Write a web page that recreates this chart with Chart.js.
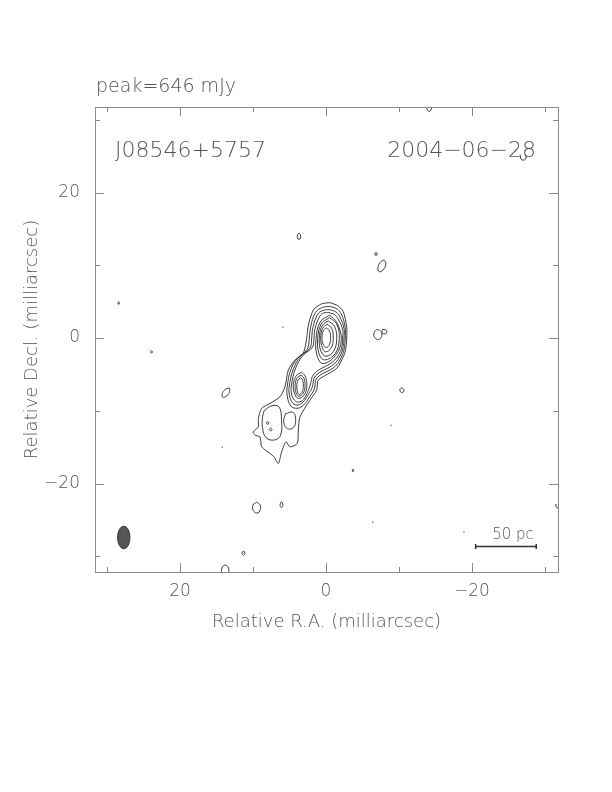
<!DOCTYPE html>
<html>
<head>
<meta charset="utf-8">
<script src="https://cdn.jsdelivr.net/npm/chart.js@4.4.1/dist/chart.umd.min.js"></script>
<style>
  html, body { margin: 0; padding: 0; background: #fff; }
</style>
</head>
<body>
<canvas id="map" width="612" height="792"></canvas>
<script>
// axes (milliarcsec), RA runs right-to-left
const raRange = [-31.78, 31.64];
const decRange = [-32.15, 31.75];
const raLabels = [20, 0, -20];
const raMinor = [30, 10, -10, -30];
const decLabels = [20, 0, -20];
const decMinor = [30, 10, -10, -30];

// contours as [RA, Dec] points
const envelope = [[-0.55,4.86],[-1.6,4.45],[-2.37,3.62],[-2.84,1.5],[-2.84,0.0],[-2.75,-1.2],[-2.47,-2.34],[-1.47,-4.17],[1.05,-5.78],[1.27,-7.15],[2.19,-8.53],[3.56,-10.83],[3.79,-12.65],[3.93,-14.48],[4.93,-14.95],[5.48,-14.26],[6.07,-15.64],[6.53,-17.24],[7.12,-16.33],[7.67,-15.86],[8.81,-14.95],[9.04,-13.58],[9.73,-13.34],[9.96,-12.89],[9.27,-12.2],[9.27,-11.05],[8.81,-9.67],[7.67,-8.98],[6.30,-8.07],[5.62,-6.70],[5.16,-4.40],[4.25,-3.03],[3.11,-2.10],[2.64,0.0],[2.45,1.6],[1.74,3.85],[0.6,4.7]];
const ring2 = [[-0.5,4.35],[-1.5,4.0],[-2.1,3.3],[-2.64,1.4],[-2.64,0.0],[-2.55,-1.1],[-2.25,-2.3],[-1.28,-3.88],[1.24,-5.49],[1.6,-7.0],[2.25,-8.1],[3.05,-9.2],[3.9,-9.65],[4.8,-9.35],[5.3,-8.0],[5.3,-6.6],[4.8,-4.3],[3.85,-2.7],[2.6,-1.6],[2.28,0.0],[2.1,1.5],[1.45,3.5],[0.5,4.2]];
const ring2East = [[8.5,-10.0],[7.4,-9.3],[6.4,-9.5],[6.1,-11.2],[6.2,-13.3],[7.0,-14.0],[8.2,-13.7],[8.7,-12.3],[8.7,-11.0]];
const ring2Mid = [[5.55,-10.4],[4.5,-10.2],[4.15,-11.3],[4.45,-12.3],[5.3,-12.45],[5.8,-11.5]];
const ring3 = [[-0.45,3.9],[-1.35,3.6],[-1.85,3.0],[-2.47,1.3],[-2.47,0.0],[-2.37,-1.05],[-2.05,-2.2],[-1.09,-3.58],[1.43,-5.19],[1.9,-6.8],[2.5,-7.9],[3.15,-8.8],[3.85,-9.2],[4.55,-8.95],[5.0,-7.9],[5.03,-6.6],[4.45,-4.2],[3.5,-2.55],[2.2,-1.4],[1.96,0.0],[1.8,1.4],[1.15,3.25],[0.4,3.8]];
const ring3SpotA = [[7.99,-11.45],[7.8,-11.65],[7.99,-11.85],[8.18,-11.65]];
const ring3SpotB = [[7.58,-12.36],[7.39,-12.56],[7.58,-12.76],[7.77,-12.56]];
const ring4 = [[-0.4,3.5],[-1.2,3.2],[-1.6,2.7],[-2.28,1.2],[-2.28,0.0],[-2.2,-1.0],[-1.85,-2.1],[-0.9,-3.29],[1.62,-4.9],[2.2,-6.6],[2.6,-7.6],[3.1,-8.45],[3.75,-8.8],[4.3,-8.55],[4.7,-7.8],[4.75,-6.6],[4.15,-4.1],[3.15,-2.4],[1.85,-1.25],[1.64,0.0],[1.5,1.3],[0.85,3.0],[0.3,3.45]];
const knot5 = [[3.35,-4.7],[2.85,-5.23],[2.62,-6.5],[2.95,-7.77],[3.75,-8.3],[4.25,-7.77],[4.48,-6.5],[4.1,-5.23]];
const knot6 = [[3.4,-5.1],[3.02,-5.52],[2.87,-6.55],[3.12,-7.58],[3.7,-8.0],[4.08,-7.58],[4.23,-6.55],[3.98,-5.52]];
const knot7 = [[3.45,-5.45],[3.2,-5.79],[3.1,-6.6],[3.28,-7.41],[3.65,-7.75],[3.9,-7.41],[4.0,-6.6],[3.83,-5.79]];
const core5 = [[-0.5,3.15],[-1.5,2.1],[-2.1,-0.2],[-1.3,-2.4],[0.4,-3.5],[1.2,-2.5],[1.37,-0.2],[0.8,2.2]];
const core6 = [[-0.45,2.8],[-1.45,1.95],[-1.82,-0.1],[-1.25,-2.15],[0.2,-3.0],[0.95,-2.15],[1.14,-0.1],[0.65,1.95]];
const core7 = [[-0.3,2.35],[-1.15,1.64],[-1.47,-0.08],[-1.05,-1.8],[0.0,-2.5],[0.7,-1.8],[0.92,-0.08],[0.55,1.64]];
const core8 = [[-0.15,1.9],[-0.78,1.34],[-1.0,0.0],[-0.72,-1.34],[0.05,-1.9],[0.5,-1.34],[0.73,0.0],[0.45,1.34]];
const core9 = [[-0.05,1.4],[-0.47,1.0],[-0.64,0.05],[-0.47,-0.9],[-0.05,-1.3],[0.37,-0.9],[0.55,0.05],[0.37,1.0]];

// small lowest-level islands scattered over the field
const noiseIslands = [
  [[3.7,14.45],[3.5,14.2],[3.5,13.75],[3.7,13.55],[3.9,13.75],[3.9,14.2]],
  [[-6.85,11.75],[-7.05,11.55],[-6.85,11.35],[-6.65,11.55]],
  [[-7.95,10.75],[-8.2,10.3],[-7.95,9.5],[-7.35,9.1],[-7.1,9.5],[-7.4,10.35]],
  [[-7.0,1.2],[-7.55,0.9],[-7.6,0.2],[-7.2,-0.2],[-6.65,0.1],[-6.6,0.8]],
  [[-7.75,1.2],[-8.3,1.05],[-8.2,0.6],[-7.7,0.7]],
  [[-10.4,-6.8],[-10.7,-7.15],[-10.4,-7.5],[-10.1,-7.15]],
  [[13.25,-6.85],[13.85,-7.1],[14.2,-7.65],[14.15,-8.15],[13.55,-7.9],[13.2,-7.35]],
  [[23.9,-1.75],[23.75,-1.9],[23.9,-2.05],[24.05,-1.9]],
  [[28.4,5.0],[28.3,4.8],[28.4,4.6],[28.5,4.8]],
  [[9.5,-22.55],[9.05,-22.9],[9.0,-23.6],[9.45,-24.05],[9.95,-23.7],[10.0,-22.95]],
  [[6.1,-22.5],[5.9,-22.9],[6.1,-23.3],[6.3,-22.9]],
  [[11.3,-29.25],[11.1,-29.55],[11.3,-29.85],[11.5,-29.55]],
  [[-3.7,-18.0],[-3.8,-18.2],[-3.7,-18.4],[-3.6,-18.2]]
];
// bits cut by the frame
const edgeFragments = [
  [[14.3,-32.6],[14.25,-31.6],[13.8,-31.2],[13.35,-31.6],[13.3,-32.6]],
  [[-13.8,32.3],[-13.9,31.3],[-14.3,31.2],[-14.6,32.3]],
  [[-26.6,25.2],[-26.7,24.6],[-27.0,24.45],[-27.35,24.6],[-27.4,25.2]],
  [[-31.5,-22.8],[-31.6,-23.3],[-32.5,-23.3]]
];
const specks = [[-6.4,-25.3],[-18.9,-26.7],[14.2,-15.0],[-8.9,-12.0],[5.9,1.5]];

// beam: RA, Dec, half width (RA), half height (Dec)
const beam = [27.7, -27.4, 0.85, 1.55];
// 50 pc bar: RA start, RA end, Dec
const scaleBar = [-20.5, -28.8, -28.6];

const fontFam = '"DejaVu Sans", sans-serif';
const ink = '#555';
const lineInk = '#3c3c3c';

function toXY(list) {
  return list.map(p => ({ x: p[0], y: p[1] }));
}
function closed(list) {
  const out = toXY(list);
  out.push({ x: list[0][0], y: list[0][1] });
  return out;
}

const datasets = [];
function addContour(data, tension) {
  datasets.push({
    data,
    showLine: true,
    borderColor: lineInk,
    borderWidth: 1,
    pointRadius: 0,
    tension,
    fill: false
  });
}
addContour(closed(envelope), 0.25);
[ring2, ring2East, ring2Mid, ring3, ring3SpotA, ring3SpotB, ring4,
 knot5, knot6, knot7, core5, core6, core7, core8, core9].forEach(c => addContour(closed(c), 0.4));
noiseIslands.forEach(c => addContour(closed(c), 0.45));
edgeFragments.forEach(c => addContour(toXY(c), 0.4));
datasets.push({
  data: toXY(specks),
  showLine: false,
  pointRadius: 0.8,
  pointBackgroundColor: '#777',
  pointBorderWidth: 0
});

function tickText(v) {
  return v < 0 ? '\u2212' + Math.abs(v) : String(v);
}

// frame, inward ticks, labels inside the map, beam and scale bar
const decor = {
  id: 'decor',
  afterDraw(chart) {
    const { ctx, chartArea: a, scales: { x, y } } = chart;
    ctx.save();
    ctx.strokeStyle = '#8a8a8a';
    ctx.lineWidth = 1;
    ctx.strokeRect(Math.round(a.left) + 0.5, Math.round(a.top) + 0.5,
      Math.round(a.right - a.left), Math.round(a.bottom - a.top));

    ctx.beginPath();
    const tx = (v, len) => {
      const px = Math.round(x.getPixelForValue(v)) + 0.5;
      ctx.moveTo(px, a.bottom); ctx.lineTo(px, a.bottom - len);
      ctx.moveTo(px, a.top); ctx.lineTo(px, a.top + len);
    };
    const ty = (v, len) => {
      const py = Math.round(y.getPixelForValue(v)) + 0.5;
      ctx.moveTo(a.left, py); ctx.lineTo(a.left + len, py);
      ctx.moveTo(a.right, py); ctx.lineTo(a.right - len, py);
    };
    raLabels.forEach(v => tx(v, 9));
    raMinor.forEach(v => tx(v, 5));
    decLabels.forEach(v => ty(v, 9));
    decMinor.forEach(v => ty(v, 5));
    ctx.stroke();

    // beam
    const bx = x.getPixelForValue(beam[0]);
    const by = y.getPixelForValue(beam[1]);
    const rx = Math.abs(x.getPixelForValue(beam[0] + beam[2]) - bx);
    const ry = Math.abs(y.getPixelForValue(beam[1] + beam[3]) - by);
    ctx.fillStyle = '#555';
    ctx.strokeStyle = '#333';
    ctx.beginPath();
    ctx.ellipse(bx, by, rx, ry, 0, 0, Math.PI * 2);
    ctx.fill();
    ctx.stroke();

    // scale bar
    const s0 = x.getPixelForValue(scaleBar[0]);
    const s1 = x.getPixelForValue(scaleBar[1]);
    const sy = Math.round(y.getPixelForValue(scaleBar[2])) + 0.5;
    ctx.strokeStyle = '#333';
    ctx.lineWidth = 1.5;
    ctx.beginPath();
    ctx.moveTo(s0, sy); ctx.lineTo(s1, sy);
    ctx.moveTo(s0, sy - 2.5); ctx.lineTo(s0, sy + 2.5);
    ctx.moveTo(s1, sy - 2.5); ctx.lineTo(s1, sy + 2.5);
    ctx.stroke();
    ctx.fillStyle = ink;
    ctx.font = '200 15px ' + fontFam;
    ctx.textAlign = 'center';
    ctx.textBaseline = 'alphabetic';
    ctx.fillText('50 pc', (s0 + s1) / 2 + 7, sy - 8);

    // texts
    ctx.font = '200 22px ' + fontFam;
    ctx.textAlign = 'left';
    ctx.fillText('J08546+5757', a.left + 20, a.top + 50);
    ctx.textAlign = 'right';
    ctx.fillText('2004\u221206\u221228', a.right - 22, a.top + 50);
    ctx.font = '200 19px ' + fontFam;
    ctx.textAlign = 'left';
    ctx.fillText('peak=646 mJy', a.left + 1, a.top - 15);
    ctx.restore();
  }
};

const labelFont = { family: fontFam, size: 17, weight: '200' };
const titleFont = { family: fontFam, size: 18, weight: '200' };

new Chart(document.getElementById('map'), {
  type: 'scatter',
  data: { datasets },
  options: {
    responsive: false,
    animation: false,
    layout: { padding: { left: 0, right: 54, top: 107, bottom: 140 } },
    plugins: { legend: { display: false }, tooltip: { enabled: false } },
    scales: {
      x: {
        type: 'linear',
        reverse: true,
        min: raRange[0],
        max: raRange[1],
        afterBuildTicks: s => { s.ticks = raLabels.map(v => ({ value: v })); },
        afterFit: s => { s.height = 80; },
        grid: { display: false, drawTicks: false },
        border: { display: false },
        ticks: {
          callback: v => tickText(v),
          font: labelFont,
          color: ink,
          padding: 9,
          maxRotation: 0,
          autoSkip: false
        },
        title: {
          display: true,
          text: 'Relative R.A. (milliarcsec)',
          font: titleFont,
          color: ink,
          padding: { top: 0, bottom: 19 }
        }
      },
      y: {
        type: 'linear',
        min: decRange[0],
        max: decRange[1],
        afterBuildTicks: s => { s.ticks = decLabels.map(v => ({ value: v })); },
        afterFit: s => { s.width = 95; },
        grid: { display: false, drawTicks: false },
        border: { display: false },
        ticks: {
          callback: v => tickText(v),
          font: labelFont,
          color: ink,
          padding: 15,
          autoSkip: false
        },
        title: {
          display: true,
          text: 'Relative Decl. (milliarcsec)',
          font: titleFont,
          color: ink,
          padding: { top: 22, bottom: 0 }
        }
      }
    }
  },
  plugins: [decor]
});
</script>
</body>
</html>
